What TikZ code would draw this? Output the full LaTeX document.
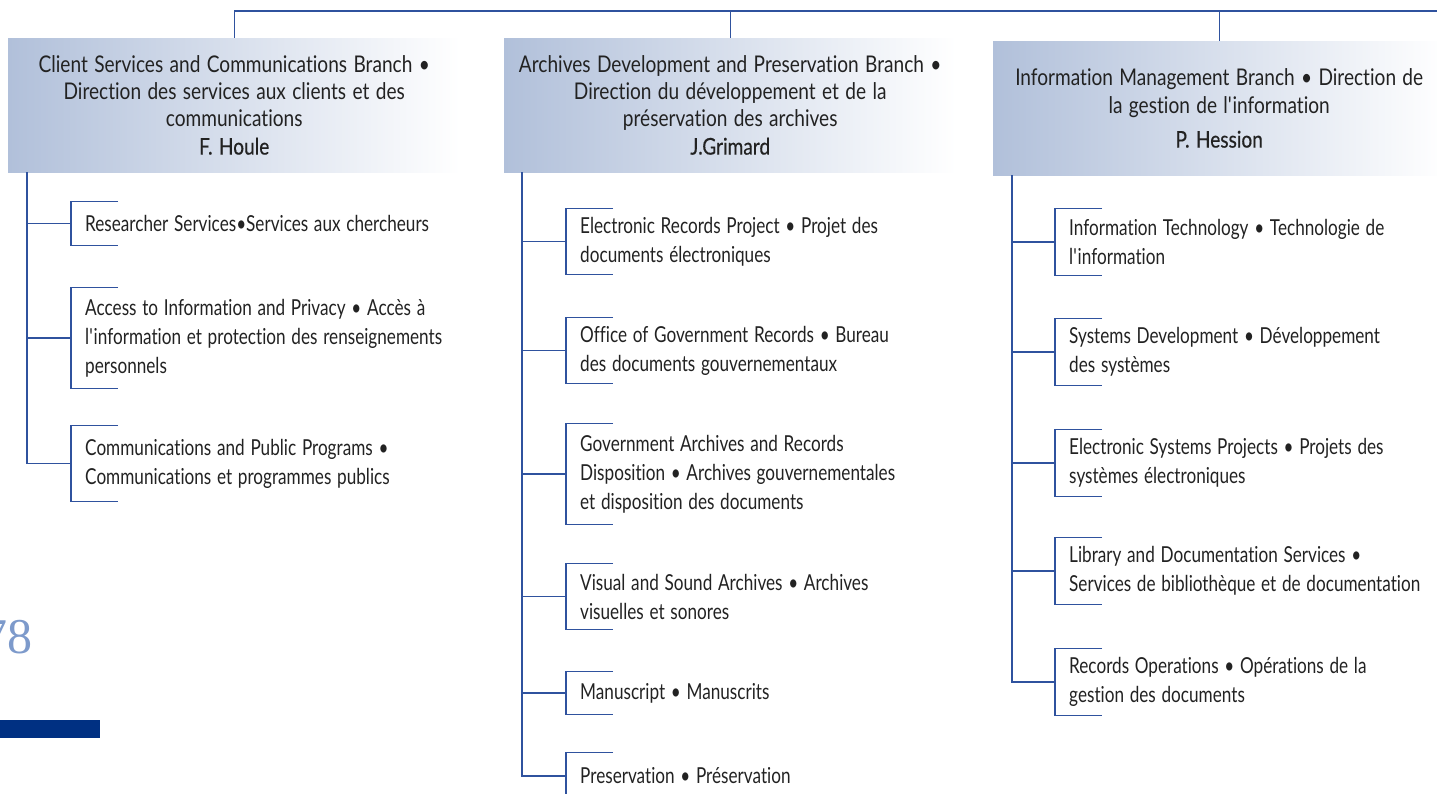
\documentclass[tikz,border=0pt]{standalone}
\usepackage{fontspec}
\setmainfont{Lato}[FakeStretch=0.78,WordSpace=1.3,Ligatures=NoCommon]
\newfontfamily\hdrfont{Lato}[FakeStretch=0.83,WordSpace=1.3,Ligatures=NoCommon]
\newfontfamily\namefont{Lato}[FakeStretch=0.83,FakeBold=0.4,WordSpace=1.3,Ligatures=NoCommon]
\newfontfamily\pgfontfam{Liberation Serif}
\usetikzlibrary{calc}
\definecolor{lnblue}{HTML}{2F529E}
\definecolor{hdrblue}{HTML}{B1C0DA}
\definecolor{pgnum}{HTML}{7D9ACB}
\definecolor{barblue}{HTML}{003082}
\definecolor{txt}{HTML}{222222}
\newcommand\mybrk[1]{\draw[ln] ([xshift=47pt]#1.north west) -- (#1.north west) -- (#1.south west) -- ([xshift=47pt]#1.south west);}
\begin{document}
\begin{tikzpicture}[x=1pt,y=-1pt,
  ln/.style={draw=lnblue,line width=1.3pt},
  hdr/.style={anchor=north west, minimum width=452pt, minimum height=134pt, inner sep=0pt,
    left color=hdrblue, right color=white, text=txt, align=center,
    font=\hdrfont\fontsize{23}{27}\selectfont},
  sub/.style={anchor=west, inner xsep=14pt, inner ysep=0pt, text width=400pt, align=flush left,
    text=txt, font=\fontsize{22}{29}\selectfont},
  ht/.style={minimum height=#1}
]
\useasboundingbox (0,0) rectangle (1437,794);

% headers
\node[hdr] (b1) at (8,38) {Client Services and Communications Branch •\\
Direction des services aux clients et des\\ communications\\[1pt] {\namefont F. Houle}};
\node[hdr] (b2) at (504,38) {Archives Development and Preservation Branch •\\
Direction du développement et de la\\ préservation des archives\\[1pt] {\namefont J.Grimard}};
\node[hdr, font=\hdrfont\fontsize{23}{28}\selectfont] (b3) at (993,41) {Information Management Branch • Direction de\\
la gestion de l\textquotesingle information\\[6pt] {\namefont P. Hession}};

% top line
\coordinate (tend) at (1440,11);
\coordinate (t1) at (b1.north |- tend);
\draw[ln] (t1) -- (tend);
\draw[ln] (t1) -- (b1.north);
\draw[ln] (b2.north |- tend) -- (b2.north);
\draw[ln] (b3.north |- tend) -- (b3.north);

% spines
\coordinate (sp1) at ($(b1.south west)+(19,0)$);
\coordinate (sp2) at ($(b2.south west)+(18,0)$);
\coordinate (sp3) at ($(b3.south west)+(19,0)$);

% column 1
\node[sub, ht=43pt] (s11) at (71,223.5) {Researcher Services•Services aux chercheurs};
\node[sub, ht=100pt] (s12) at (71,338) {Access to Information and Privacy • Accès à\\ l\textquotesingle information et protection des renseignements\\ personnels};
\node[sub, ht=75pt] (s13) at (71,463.5) {Communications and Public Programs •\\ Communications et programmes publics};

% column 2
\node[sub, ht=66pt] (s21) at (566,241.5) {Electronic Records Project • Projet des\\ documents électroniques};
\node[sub, ht=66pt] (s22) at (566,350.5) {Office of Government Records • Bureau\\ des documents gouvernementaux};
\node[sub, ht=101pt] (s23) at (566,474) {Government Archives and Records\\ Disposition • Archives gouvernementales\\ et disposition des documents};
\node[sub, ht=66pt] (s24) at (566,596.5) {Visual and Sound Archives • Archives\\ visuelles et sonores};
\node[sub, ht=43pt] (s25) at (566,693) {Manuscript • Manuscrits};
\node[sub, ht=46pt] (s26) at (566,776) {Preservation • Préservation};

% column 3
\node[sub, ht=67pt] (s31) at (1055,242) {Information Technology • Technologie de\\ l\textquotesingle information};
\node[sub, ht=67pt] (s32) at (1055,352) {Systems Development • Développement\\ des systèmes};
\node[sub, ht=67pt] (s33) at (1055,463) {Electronic Systems Projects • Projets des\\ systèmes électroniques};
\node[sub, ht=67pt] (s34) at (1055,571) {Library and Documentation Services •\\ Services de bibliothèque et de documentation};
\node[sub, ht=67pt] (s35) at (1055,682) {Records Operations • Opérations de la\\ gestion des documents};

\foreach \s in {s11,s12,s13}{\draw[ln] (sp1) |- (\s.west); \mybrk{\s}}
\foreach \s in {s21,s22,s23,s24,s25,s26}{\draw[ln] (sp2) |- (\s.west); \mybrk{\s}}
\foreach \s in {s31,s32,s33,s34,s35}{\draw[ln] (sp3) |- (\s.west); \mybrk{\s}}

% page number and bar
\node[anchor=base east, inner sep=0pt, text=pgnum, font=\pgfontfam\fontsize{50}{50}\selectfont] (pg) at (33,653) {78};
\node[anchor=north west, inner sep=0pt, fill=barblue, minimum width=100pt, minimum height=18pt] (bar) at (0,720) {};
\end{tikzpicture}
\end{document}
